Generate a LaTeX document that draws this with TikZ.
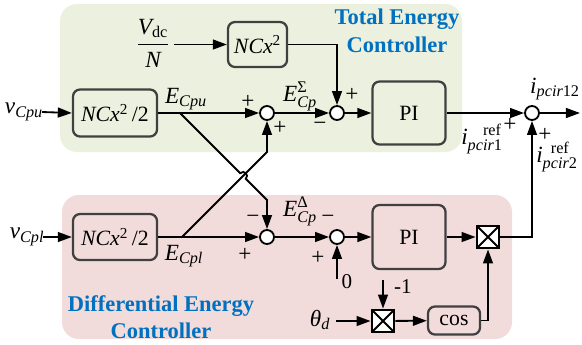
\documentclass[tikz,border=0pt]{standalone}
\usepackage{amsmath}
\usepackage{fontspec}
\setmainfont{Liberation Serif}
\usetikzlibrary{arrows.meta}
\definecolor{totbg}{HTML}{EBF1DE}
\definecolor{difbg}{HTML}{F2DCDB}
\definecolor{ctlblue}{HTML}{0070C0}
\definecolor{blkgray}{HTML}{404040}
\begin{document}
\begin{tikzpicture}[x=0.025cm,y=-0.025cm,line width=1.3pt,>={Triangle[length=10pt,width=7pt]},
  every node/.style={font=\fontsize{16.5}{20}\selectfont},
  blk/.style={draw=blkgray,line width=1.6pt,rounded corners=5pt,inner sep=0pt,font=\fontsize{15.5}{18}\selectfont},
  sumc/.style={circle,draw,fill=white,minimum size=0.35cm,inner sep=0pt},
  mult/.style={draw,fill=white,line width=2pt,minimum size=0.55cm,inner sep=0pt,
    path picture={\draw[line width=1.3pt] (path picture bounding box.north west)--(path picture bounding box.south east)
      (path picture bounding box.north east)--(path picture bounding box.south west);}},
  sgn/.style={inner sep=0pt},
  ttl/.style={align=center,text=ctlblue,font=\fontsize{16}{19.5}\selectfont\bfseries}]
\useasboundingbox (0,0) rectangle (582,344);
\fill[totbg,rounded corners=12pt] (60,4) rectangle (462,152);
\fill[difbg,rounded corners=12pt] (62,195) rectangle (512,339);
\node[ttl] (ttot) at (397,31) {Total Energy\\Controller};
\node[ttl] (tdif) at (161,317) {Differential Energy\\Controller};
% total energy part
\node (vdc) at (153,43) {$\dfrac{\textit{V}_{\text{dc}}}{\textit{N}}$};
\node[blk,minimum width=1.475cm,minimum height=1.125cm] (sq) at (257.5,44.5) {\textit{NCx}\textsuperscript{2}};
\node (vu) at (24,112) {$\textit{v}_{\textit{Cpu}}$};
\node[blk,minimum width=2.1cm,minimum height=1.175cm] (hu) at (115,113) {\textit{NCx}\textsuperscript{2}\,/2};
\node[sumc] (sA) at (267,113) {};
\node[sumc] (sB) at (337,113) {};
\node[blk,minimum width=1.825cm,minimum height=1.575cm] (piu) at (409,113) {PI};
\node[sumc] (sC) at (532,113) {};
\coordinate (out) at (580,113);
\coordinate (bu) at (180,113);
% differential energy part
\node (vl) at (27,237) {$\textit{v}_{\textit{Cpl}}$};
\node[blk,minimum width=2.1cm,minimum height=1.15cm] (hl) at (115,237) {\textit{NCx}\textsuperscript{2}\,/2};
\node[sumc] (sD) at (267,237) {};
\node[sumc] (sE) at (337,237) {};
\node[blk,minimum width=1.825cm,minimum height=1.6cm] (pil) at (409,237) {PI};
\node[mult] (mA) at (488,237) {};
\node[mult] (mB) at (383,321) {};
\node[blk,minimum width=1.3cm,minimum height=0.7cm] (cs) at (454,320.5) {cos};
\node (th) at (320,320) {$\textit{θ}_{\textit{d}}$};
\node[font=\fontsize{15}{18}\selectfont] (zero) at (347,282) {0};
\node[font=\fontsize{15}{18}\selectfont] (mone) at (403,287) {-1};
\coordinate (z0) at (337,279);
\coordinate (m0) at (383,280);
\coordinate (bl) at (182,237);
\coordinate (hop1) at (240.2,173.2);
\coordinate (hop2) at (245.8,178.8);
\coordinate (kd) at (267,200);
\coordinate (ku) at (267,152);
% connectors
\draw[->] (174,44.5) -- (sq.west);
\draw[->] (sq.east) -| (sB.north);
\draw[->] (42,112) -- (hu.west);
\draw[->] (hu.east) -- (sA.west);
\draw[->] (sA) -- (sB);
\draw[->] (sB) -- (piu);
\draw[->] (piu) -- (sC);
\draw[->] (sC) -- (out);
\draw[->] (bu) -- (hop1) .. controls (244,169.4) and (249.6,175) .. (hop2) -- (kd) -- (sD.north);
\draw[->] (bl) -- (ku) -- (sA.south);
\draw[->] (43,237) -- (hl.west);
\draw[->] (hl) -- (sD);
\draw[->] (sD) -- (sE);
\draw[->] (z0) -- (sE.south);
\draw[->] (sE) -- (pil);
\draw[->] (pil) -- (mA);
\draw[->] (mA.east) -| (sC.south);
\draw[->] (m0) -- (mB.north);
\draw[->] (336,321) -- (mB.west);
\draw[->] (mB) -- (cs);
\draw[->] (cs.east) -| (mA.south);
% labels and signs
\node (eu) at (186,99) {$\textit{E}_{\textit{Cpu}}$};
\node (el) at (184,256) {$\textit{E}_{\textit{Cpl}}$};
\node (esig) at (300,96) {$\textit{E}^{\text{Σ}}_{\textit{Cp}}$};
\node (edel) at (300,211) {$\textit{E}^{\text{Δ}}_{\textit{Cp}}$};
\node (i12) at (555,89) {$\textit{i}_{\textit{pcir}\text{12}}$};
\node (ir1) at (482,139) {$\textit{i}^{\hphantom{\textit{pc}}\text{ref}}_{\textit{pcir}\text{1}}$};
\node (ir2) at (557,157) {$\textit{i}^{\hphantom{\textit{p}}\text{ref}}_{\textit{pcir}\text{2}}$};
\node[sgn] (pA1) at (248,102) {+};
\node[sgn] (pA2) at (280,128) {+};
\node[sgn] (pB1) at (320,126) {−};
\node[sgn] (pB2) at (352,95) {+};
\node[sgn] (pD1) at (253,219) {−};
\node[sgn] (pD2) at (245,255) {+};
\node[sgn] (pE1) at (328,219) {−};
\node[sgn] (pE2) at (318,258) {+};
\node[sgn] (pC1) at (510,125) {+};
\node[sgn] (pC2) at (545,135) {+};
\end{tikzpicture}
\end{document}
